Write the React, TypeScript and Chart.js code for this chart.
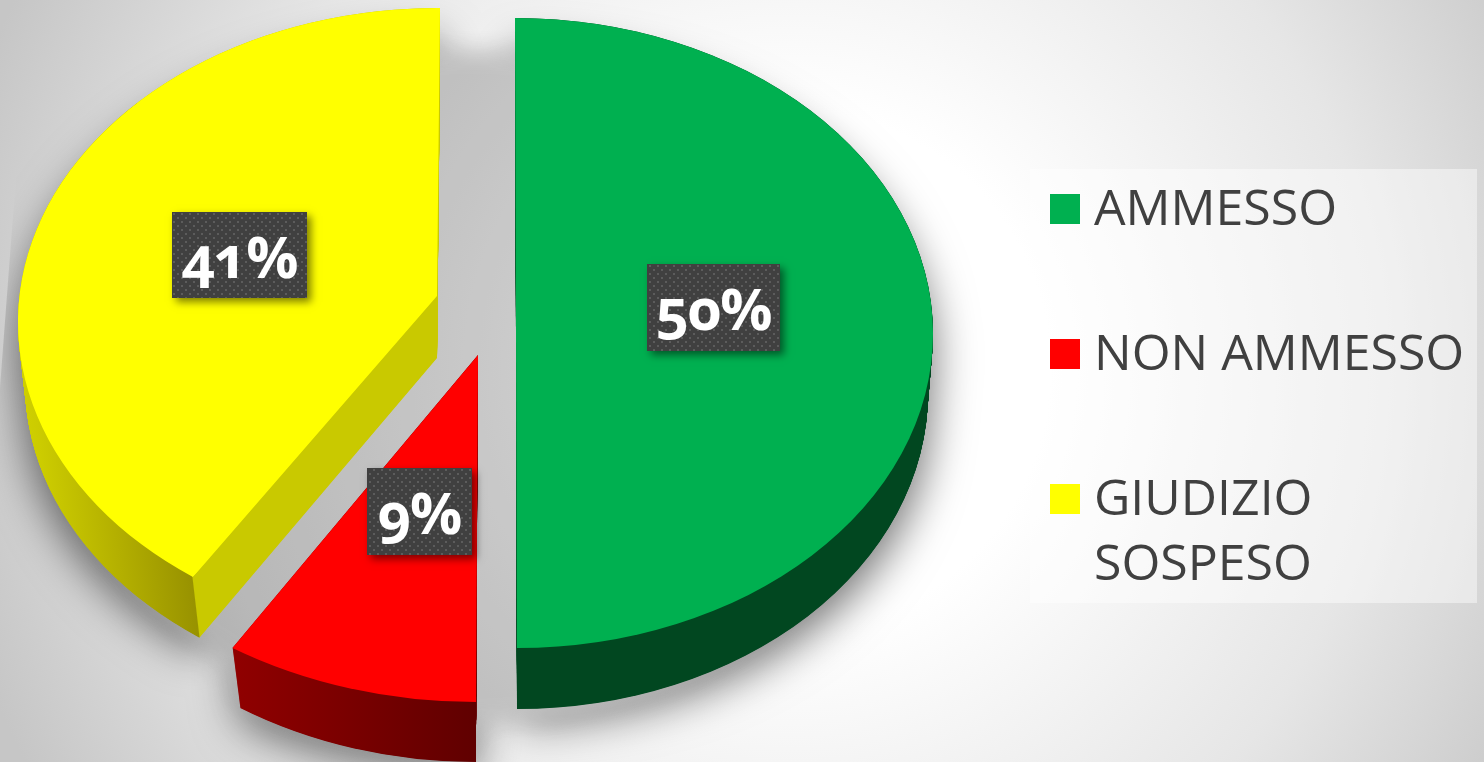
import React, { useEffect, useRef } from "react";
import { Chart, registerables } from "chart.js";

Chart.register(...registerables);

const categories = ["AMMESSO", "NON AMMESSO", "GIUDIZIO SOSPESO"];
const shares = [50, 9, 41];
const sliceColors = ["#00b050", "#ff0000", "#ffff00"];
const legendLines = [["AMMESSO"], ["NON AMMESSO"], ["GIUDIZIO", "SOSPESO"]];

const W = 1484;
const H = 762;
const STEPS = 120;

type Ell = { cx: number; cy: number; rx: number; ry: number; sk: number; rot: number };
type Pt = [number, number];
type SliceStyle = { top: Ell; bottom: Ell; clipTop?: Pt[]; clipBottom?: Pt[]; wall: [Pt, Pt, [number, string][]]; gapShift: Pt };

const sliceStyles: SliceStyle[] = [
  {
    top: { cx: 516, cy: 333, rx: 417, ry: 315, sk: 0.0032, rot: 0 },
    bottom: { cx: 517, cy: 393, rx: 411, ry: 316, sk: 0, rot: 0 },
    wall: [[500, 0], [950, 0], [[0, "#014720"], [1, "#014720"]]],
    gapShift: [-48, 0],
  },
  {
    top: { cx: 478, cy: 355, rx: 455, ry: 347, sk: -0.0058, rot: 0 },
    bottom: { cx: 476, cy: 415, rx: 440, ry: 347, sk: 0, rot: 0 },
    wall: [[234, 0], [476, 0], [[0, "#900000"], [0.5, "#780000"], [1, "#600000"]]],
    gapShift: [-5, -25],
  },
  {
    top: { cx: 438, cy: 322, rx: 420, ry: 314, sk: 0, rot: (3.3 * Math.PI) / 180 },
    bottom: { cx: 445, cy: 383, rx: 420, ry: 314, sk: 0, rot: (3.3 * Math.PI) / 180 },
    clipTop: [[-100, -100], [441, -100], [440, 8], [437, 296], [193, 577], [169, 605], [-100, 800]],
    clipBottom: [[-100, -100], [441, -100], [440, 68], [437, 358], [200, 637], [176, 665], [-100, 860]],
    wall: [[17, 628], [376, 586], [[0, "#d8d800"], [0.12, "#cccc00"], [0.3, "#b4b000"], [0.497, "#989200"], [0.5, "#c9c900"], [1, "#c9c900"]]],
    gapShift: [38, 10],
  },
];

const labelBoxes = [
  { x: 647, y: 264, w: 133, h: 87 },
  { x: 367, y: 468, w: 105, h: 87 },
  { x: 172, y: 212, w: 135, h: 86 },
];

const legendPanel = { x: 1030, y: 169, w: 447, h: 434 };
const legendSquares = [194, 339, 484];
const legendBaselines = [[225], [370], [515, 580]];
const shadowKeep: Pt[] = [[30, -10], [1494, -10], [1494, 772], [-10, 772], [-10, 520]];

const lerp = (a: number, b: number, t: number) => a + (b - a) * t;

function placeArc(ctx: CanvasRenderingContext2D, arc: any, s: SliceStyle, t: number) {
  const R = arc.outerRadius;
  const e = s.top;
  const b = s.bottom;
  ctx.save();
  if (s.clipTop && s.clipBottom) {
    ctx.beginPath();
    s.clipTop.forEach((p, i) => {
      const q = s.clipBottom![i];
      const x = lerp(p[0], q[0], t);
      const y = lerp(p[1], q[1], t);
      if (i === 0) ctx.moveTo(x, y);
      else ctx.lineTo(x, y);
    });
    ctx.closePath();
    ctx.clip();
  }
  ctx.translate(lerp(e.cx, b.cx, t), lerp(e.cy, b.cy, t));
  ctx.transform(1, 0, lerp(e.sk, b.sk, t), 1, 0, 0);
  ctx.scale(lerp(e.rx, b.rx, t) / R, lerp(e.ry, b.ry, t) / R);
  ctx.rotate(lerp(e.rot, b.rot, t));
  ctx.translate(-arc.x, -arc.y);
  arc.draw(ctx);
  ctx.restore();
}

function castShadow(
  ctx: CanvasRenderingContext2D,
  src: HTMLCanvasElement,
  color: string,
  blur: number,
  sy: number,
  ty: number,
  op: GlobalCompositeOperation = "source-over"
) {
  ctx.save();
  ctx.globalCompositeOperation = op;
  ctx.shadowColor = color;
  ctx.shadowBlur = blur;
  ctx.shadowOffsetX = 3000;
  ctx.setTransform(1, 0, 0, sy, -3000, ty);
  ctx.drawImage(src, 0, 0);
  ctx.restore();
}

const pie3d = {
  id: "pie3d",
  beforeDatasetDraw() {
    return false;
  },
  afterDatasetsDraw(chart: any) {
    const ctx: CanvasRenderingContext2D = chart.ctx;
    const arcs = chart.getDatasetMeta(0).data;

    const walls = arcs.map((arc: any, i: number) => {
      const off = document.createElement("canvas");
      off.width = W;
      off.height = H;
      const o = off.getContext("2d")!;
      for (let k = 0; k <= STEPS; k++) placeArc(o, arc, sliceStyles[i], k / STEPS);
      return off;
    });

    // mask of the pie with the gaps closed up
    const mask = document.createElement("canvas");
    mask.width = W;
    mask.height = H;
    const m = mask.getContext("2d")!;
    walls.forEach((w: HTMLCanvasElement, i: number) => {
      const [dx, dy] = sliceStyles[i].gapShift;
      m.setTransform(1, 0, 0, 0.9725, dx, 32.5 + dy);
      m.drawImage(w, 0, 0);
    });

    // outer halo, cut away inside the gaps, where an even shade is used
    const layer = document.createElement("canvas");
    layer.width = W;
    layer.height = H;
    const l = layer.getContext("2d")!;
    walls.forEach((w: HTMLCanvasElement) => castShadow(l, w, "rgba(0,0,0,0.55)", 44, 0.9725, 32.5));
    castShadow(l, mask, "rgba(0,0,0,1)", 22, 1, 0, "destination-out");
    castShadow(l, mask, "rgba(0,0,0,0.2)", 22, 1, 0);

    ctx.save();
    ctx.beginPath();
    shadowKeep.forEach((p, i) => (i === 0 ? ctx.moveTo(p[0], p[1]) : ctx.lineTo(p[0], p[1])));
    ctx.closePath();
    ctx.clip();
    ctx.drawImage(layer, 0, 0);
    ctx.restore();

    arcs.forEach((arc: any, i: number) => {
      const s = sliceStyles[i];
      const o = walls[i].getContext("2d")!;
      const [p0, p1, stops] = s.wall;
      const g = o.createLinearGradient(p0[0], p0[1], p1[0], p1[1]);
      stops.forEach(([pos, col]) => g.addColorStop(pos, col));
      o.globalCompositeOperation = "source-in";
      o.fillStyle = g;
      o.fillRect(0, 0, W, H);
      ctx.drawImage(walls[i], 0, 0);
      placeArc(ctx, arc, s, 0);
    });

    // data label plates
    const tile = document.createElement("canvas");
    tile.width = 8;
    tile.height = 8;
    const tc = tile.getContext("2d")!;
    tc.fillStyle = "#404040";
    tc.fillRect(0, 0, 8, 8);
    tc.fillStyle = "#5c5c5c";
    tc.fillRect(1, 1, 2, 2);
    tc.fillRect(5, 5, 2, 2);
    const pattern = ctx.createPattern(tile, "repeat")!;
    labelBoxes.forEach((b) => {
      ctx.save();
      ctx.shadowColor = "rgba(0,0,0,0.5)";
      ctx.shadowBlur = 8;
      ctx.shadowOffsetX = 4;
      ctx.shadowOffsetY = 4;
      ctx.fillStyle = "#404040";
      ctx.fillRect(b.x, b.y, b.w, b.h);
      ctx.restore();
      ctx.fillStyle = pattern;
      ctx.fillRect(b.x, b.y, b.w, b.h);
    });

    // legend
    ctx.save();
    ctx.fillStyle = "rgba(255,255,255,0.45)";
    ctx.fillRect(legendPanel.x, legendPanel.y, legendPanel.w, legendPanel.h);
    legendLines.forEach((lines, i) => {
      ctx.fillStyle = sliceColors[i];
      ctx.fillRect(1050, legendSquares[i], 30, 30);
      ctx.fillStyle = "#404040";
      ctx.font = '400 50px "Open Sans"';
      ctx.textBaseline = "alphabetic";
      lines.forEach((line, j) => ctx.fillText(line, 1094, legendBaselines[i][j]));
    });
    ctx.restore();
  },
};

const background = {
  id: "paper",
  beforeDraw(chart: any) {
    const ctx: CanvasRenderingContext2D = chart.ctx;
    const g = ctx.createRadialGradient(790, 370, 260, 790, 370, 860);
    g.addColorStop(0, "#ffffff");
    g.addColorStop(0.55, "#e6e6e6");
    g.addColorStop(1, "#c6c6c6");
    ctx.fillStyle = g;
    ctx.fillRect(0, 0, W, H);
  },
};

export default function App() {
  const ref = useRef<HTMLCanvasElement | null>(null);
  useEffect(() => {
    document.body.style.margin = "0";
    const chart = new Chart(ref.current!, {
      type: "pie",
      data: {
        labels: categories,
        datasets: [{ data: shares, backgroundColor: sliceColors, borderWidth: 0 }],
      },
      options: {
        animation: false,
        responsive: false,
        plugins: { legend: { display: false }, tooltip: { enabled: false } },
      },
      plugins: [background, pie3d],
    } as any);
    return () => chart.destroy();
  }, []);
  return (
    <div style={{ position: "relative", width: W, height: H, overflow: "hidden" }}>
      <canvas ref={ref} width={W} height={H} style={{ display: "block" }} />
      {labelBoxes.map((b, i) => (
        <div
          key={i}
          style={{
            position: "absolute",
            left: b.x,
            top: b.y,
            width: b.w,
            height: b.h,
            display: "flex",
            alignItems: "center",
            justifyContent: "center",
            color: "#fff",
            fontFamily: '"Open Sans"',
            fontWeight: 700,
            fontSize: 58,
            fontFeatureSettings: '"onum" 1',
            letterSpacing: -1,
          }}
        >
          {shares[i]}%
        </div>
      ))}
    </div>
  );
}
